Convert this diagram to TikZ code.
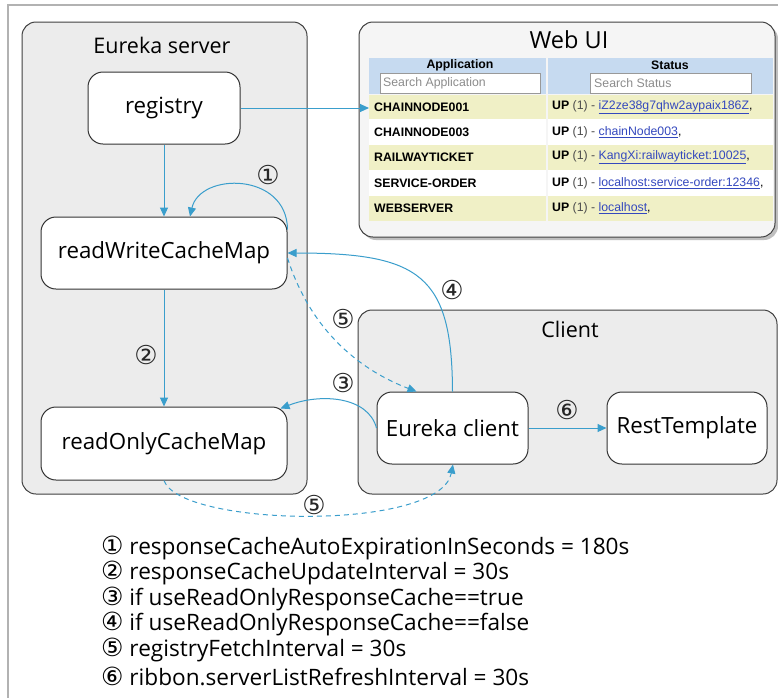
\documentclass[tikz,border=0pt]{standalone}
\usepackage{fontspec}
\setmainfont{Open Sans}
\newfontfamily\circfont{DejaVu Sans}
\newfontfamily\tabfont{Liberation Sans}
\usetikzlibrary{arrows.meta}
\definecolor{arrowblue}{RGB}{58,158,204}
\definecolor{grpfill}{RGB}{236,236,236}
\definecolor{rowyellow}{RGB}{240,240,198}
\definecolor{headblue}{RGB}{198,218,240}
\definecolor{linkblue}{RGB}{52,72,190}
\tikzset{
  grp/.style={draw=black!75, fill=grpfill, rounded corners=14pt, line width=1pt, inner sep=0pt},
  box/.style={draw=black!80, fill=white, rounded corners=15pt, line width=1pt, inner sep=0pt, font=\fontsize{22.3}{25}\selectfont},
  title/.style={font=\fontsize{21.5}{24}\selectfont, inner sep=0pt},
  arr/.style={draw=arrowblue, line width=1pt, -{Triangle[length=9pt,width=8pt]}},
  dasharr/.style={arr, dash pattern=on 5pt off 4pt},
  lbl/.style={font=\circfont\fontsize{26}{26}\selectfont, text=black!85, inner sep=0pt},
  cellL/.style={anchor=north west, minimum width=177pt, inner sep=0pt, draw=none},
  cellR/.style={anchor=north west, minimum width=225pt, inner sep=0pt, draw=none},
  ttxt/.style={anchor=west, inner sep=0pt, font=\tabfont\fontsize{12.3}{14}\selectfont},
  search/.style={anchor=north west, draw=black!40, fill=white, line width=0.8pt, inner sep=0pt, minimum height=20pt},
  legend/.style={anchor=west, inner sep=0pt, font=\fontsize{22.6}{25}\selectfont},
}
\newcommand{\lnk}[1]{\textcolor{linkblue}{\underline{#1}}}
\newcommand{\upst}{\textbf{UP} \textcolor{black!70}{(1) -} }
\newcommand{\cnum}[1]{{\circfont\fontsize{25}{25}\selectfont #1}}
\begin{document}
\begin{tikzpicture}[x=1pt,y=-1pt]
\clip (0,0) rectangle (778,697);
\fill[white] (0,0) rectangle (778,697);
% outer frame
\draw[black!30, line width=1.2pt] (8,5) rectangle (800,720);

% groups
\node[grp, minimum width=285pt, minimum height=472pt] (es) at (164.5,258) {};
\node[title] (estitle) at (162,45) {Eureka server};
\fill[black!25, rounded corners=14pt] (362,25) rectangle (778,240);
\node[grp, fill=black!4, minimum width=416pt, minimum height=215pt] (web) at (567,129.5) {};
\node[title, font=\fontsize{23.5}{26}\selectfont] (webtitle) at (569,40) {Web UI};
\node[grp, minimum width=419pt, minimum height=184pt] (cl) at (567.5,402) {};
\node[title] (cltitle) at (570,329) {Client};

% table
\node[cellL, fill=headblue, minimum height=36pt] (hA) at (369,58) {};
\node[cellR, fill=headblue, minimum height=36pt] (hS) at (547.5,58) {};
\node[inner sep=0pt, font=\tabfont\bfseries\fontsize{12.3}{14}\selectfont] (hAt) at (460,65) {Application};
\node[inner sep=0pt, font=\tabfont\bfseries\fontsize{12.3}{14}\selectfont] (hSt) at (670,65) {Status};
\node[search, minimum width=160pt] (sA) at (380,73) {};
\node[search, minimum width=161pt] (sS) at (590,73) {};
\node[ttxt, text=black!45] (sAt) at (383,83) {Search Application};
\node[ttxt, text=black!45] (sSt) at (594,83) {Search Status};

\node[cellL, fill=rowyellow, minimum height=24pt] (r1) at (369,95) {};
\node[cellR, fill=rowyellow, minimum height=24pt] (r1s) at (547.5,95) {};
\node[cellL, fill=white, minimum height=26pt] (r2) at (369,119) {};
\node[cellR, fill=white, minimum height=26pt] (r2s) at (547.5,119) {};
\node[cellL, fill=rowyellow, minimum height=25pt] (r3) at (369,145) {};
\node[cellR, fill=rowyellow, minimum height=25pt] (r3s) at (547.5,145) {};
\node[cellL, fill=white, minimum height=26pt] (r4) at (369,170) {};
\node[cellR, fill=white, minimum height=26pt] (r4s) at (547.5,170) {};
\node[cellL, fill=rowyellow, minimum height=25pt] (r5) at (369,196) {};
\node[cellR, fill=rowyellow, minimum height=25pt] (r5s) at (547.5,196) {};

\node[ttxt, font=\tabfont\bfseries\fontsize{12.3}{14}\selectfont] (t1) at (374,107) {CHAINNODE001};
\node[ttxt, font=\tabfont\bfseries\fontsize{12.3}{14}\selectfont] (t2) at (374,132) {CHAINNODE003};
\node[ttxt, font=\tabfont\bfseries\fontsize{12.3}{14}\selectfont] (t3) at (374,157.5) {RAILWAYTICKET};
\node[ttxt, font=\tabfont\bfseries\fontsize{12.3}{14}\selectfont] (t4) at (374,183) {SERVICE-ORDER};
\node[ttxt, font=\tabfont\bfseries\fontsize{12.3}{14}\selectfont] (t5) at (374,208.5) {WEBSERVER};
\node[ttxt] (s1) at (552,107) {\upst\lnk{iZ2ze38g7qhw2aypaix186Z},};
\node[ttxt] (s2) at (552,132) {\upst\lnk{chainNode003},};
\node[ttxt] (s3) at (552,157.5) {\upst\lnk{KangXi:railwayticket:10025},};
\node[ttxt] (s4) at (552,183) {\upst\lnk{localhost:service-order:12346},};
\node[ttxt] (s5) at (552,208.5) {\upst\lnk{localhost},};

% nodes
\node[box, minimum width=152pt, minimum height=72pt] (reg) at (164,108) {registry};
\node[box, minimum width=246pt, minimum height=72pt] (rw) at (164,253) {readWriteCacheMap};
\node[box, minimum width=246pt, minimum height=73pt] (ro) at (164,443.5) {readOnlyCacheMap};
\node[box, minimum width=151pt, minimum height=72pt] (ec) at (452.5,428) {Eureka client};
\node[box, minimum width=160pt, minimum height=72pt] (rt) at (687,428) {RestTemplate};

% connectors
\draw[arr] (reg.east) -- (reg.east -| r1.west);
\draw[arr] (reg) -- (rw);
\draw[arr] ([yshift=-13pt]rw.north east) .. controls (287,172) and (200,172) .. ([xshift=26pt]rw.north);
\draw[arr] (rw) -- (ro);
\draw[arr] (ec.north) .. controls (452,275) and (420,253) .. (rw.east);
\draw[dasharr] ([yshift=-5pt]rw.east) .. controls (312,335) and (365,372) .. ([xshift=-36pt]ec.north);
\draw[arr] (ec.west) .. controls (368,396) and (320,393) .. ([xshift=-7pt,yshift=-2pt]ro.north east);
\draw[dasharr] (ro.south) .. controls (180,527) and (440,532) .. ([xshift=0.5pt]ec.south);
\draw[arr] (ec) -- (rt);

% labels
\node[lbl] (l1) at (268,175) {①};
\node[lbl] (l2) at (146,355) {②};
\node[lbl] (l3) at (343,383) {③};
\node[lbl] (l4) at (452,290) {④};
\node[lbl] (l5a) at (343,319) {⑤};
\node[lbl] (l5b) at (314,505) {⑤};
\node[lbl] (l6) at (567,410) {⑥};

% legend
\node[legend] (g1) at (101,548) {\cnum{①} responseCacheAutoExpirationInSeconds = 180s};
\node[legend] (g2) at (101,573) {\cnum{②} responseCacheUpdateInterval = 30s};
\node[legend] (g3) at (101,598.5) {\cnum{③} if useReadOnlyResponseCache==true};
\node[legend] (g4) at (101,624) {\cnum{④} if useReadOnlyResponseCache==false};
\node[legend] (g5) at (101,650) {\cnum{⑤} registryFetchInterval = 30s};
\node[legend] (g6) at (101,676) {\cnum{⑥} ribbon.serverListRefreshInterval = 30s};
\end{tikzpicture}
\end{document}
